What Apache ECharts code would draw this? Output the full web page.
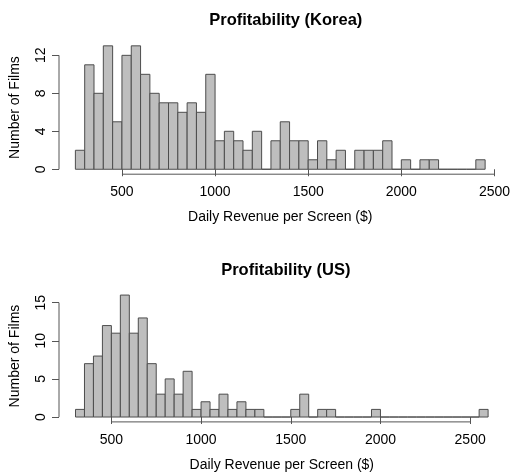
<!DOCTYPE html>
<html>
<head>
<meta charset="utf-8">
<script src="https://cdn.jsdelivr.net/npm/echarts@6/dist/echarts.min.js"></script>
<style>
html,body{margin:0;padding:0;background:#fff;}
#chart{width:513px;height:473px;}
</style>
</head>
<body>
<div id="chart"></div>
<script>
// Histogram bin width and bin lower edges
const binWidth = 50;
const koreaBins = [250,300,350,400,450,500,550,600,650,700,750,800,850,900,950,1000,1050,1100,1150,1200,1250,1300,1350,1400,1450,1500,1550,1600,1650,1700,1750,1800,1850,1900,1950,2000,2050,2100,2150,2200,2250,2300,2350,2400];
const koreaCounts = [2,11,8,13,5,12,13,10,8,7,7,6,7,6,10,3,4,3,2,4,0,3,5,3,3,1,3,1,2,0,2,2,2,3,0,1,0,1,1,0,0,0,0,1];
const usBins = [300,350,400,450,500,550,600,650,700,750,800,850,900,950,1000,1050,1100,1150,1200,1250,1300,1350,1400,1450,1500,1550,1600,1650,1700,1750,1800,1850,1900,1950,2000,2050,2100,2150,2200,2250,2300,2350,2400,2450,2500,2550];
const usCounts = [1,7,8,12,11,16,11,13,7,3,5,3,6,1,2,1,3,1,2,1,1,0,0,0,1,3,0,1,1,0,0,0,0,1,0,0,0,0,0,0,0,0,0,0,0,1];

const koreaXTicks = [500,1000,1500,2000,2500];
const koreaYTicks = [0,4,8,12];
const usXTicks = [500,1000,1500,2000,2500];
const usYTicks = [0,5,10,15];

const titleKorea = 'Profitability (Korea)';
const titleUS = 'Profitability (US)';
const xName = 'Daily Revenue per Screen ($)';
const yName = 'Number of Films';

const FONT = '"Liberation Sans", Arial, Helvetica, sans-serif';
const AXIS_COLOR = '#555';

function ext(lo, hi) { const d = (hi - lo) * 0.04; return [lo - d, hi + d]; }

const kx = ext(koreaBins[0], koreaBins[koreaBins.length - 1] + binWidth);
const ky = ext(0, Math.max(...koreaCounts));
const ux = ext(usBins[0], usBins[usBins.length - 1] + binWidth);
const uy = ext(0, Math.max(...usCounts));

function histData(bins, counts) {
  return bins.map((b, i) => [b, b + binWidth, counts[i]]);
}

function renderBar(params, api) {
  const p0 = api.coord([api.value(0), 0]);
  const p1 = api.coord([api.value(1), api.value(2)]);
  return {
    type: 'rect',
    shape: { x: p0[0], y: p1[1], width: p1[0] - p0[0], height: p0[1] - p1[1] },
    style: { fill: '#bebebe', stroke: '#4d4d4d', lineWidth: 1 }
  };
}

const plain = v => String(Math.round(v));

function xAxisDef(gi, range, ticks) {
  return {
    type: 'value', gridIndex: gi, min: range[0], max: range[1],
    axisLine: { show: false },
    splitLine: { show: false },
    axisTick: { show: true, length: 7, customValues: ticks, lineStyle: { color: AXIS_COLOR } },
    axisLabel: { customValues: ticks, formatter: plain, color: '#000', fontSize: 14, fontFamily: FONT, margin: 11 },
    name: xName, nameLocation: 'middle', nameGap: 36,
    nameTextStyle: { color: '#000', fontSize: 14, fontFamily: FONT }
  };
}
function yAxisDef(gi, range, ticks) {
  return {
    type: 'value', gridIndex: gi, min: range[0], max: range[1],
    axisLine: { show: false },
    splitLine: { show: false },
    axisTick: { show: true, length: 7, customValues: ticks, lineStyle: { color: AXIS_COLOR } },
    axisLabel: { customValues: ticks, formatter: plain, color: '#000', fontSize: 14, fontFamily: FONT, margin: 11, rotate: 90 },
    name: yName, nameLocation: 'middle', nameGap: 37,
    nameTextStyle: { color: '#000', fontSize: 14, fontFamily: FONT }
  };
}
function axisLineSeries(gi, xr, yr, xt, yt) {
  const ls = { color: AXIS_COLOR, width: 1 };
  return [
    { type: 'line', xAxisIndex: gi, yAxisIndex: gi, data: [[xt[0], yr[0]], [xt[xt.length - 1], yr[0]]],
      symbol: 'none', silent: true, lineStyle: ls, clip: false, z: 5 },
    { type: 'line', xAxisIndex: gi, yAxisIndex: gi, data: [[xr[0], yt[0]], [xr[0], yt[yt.length - 1]]],
      symbol: 'none', silent: true, lineStyle: ls, clip: false, z: 5 }
  ];
}

const chart = echarts.init(document.getElementById('chart'), null, { renderer: 'canvas' });
chart.setOption({
  animation: false,
  backgroundColor: '#fff',
  title: [
    { text: titleKorea, left: 280.8, top: 7, textAlign: 'center',
      textStyle: { fontSize: 16.5, fontWeight: 'bold', fontFamily: FONT, color: '#000' } },
    { text: titleUS, left: 280.8, top: 257, textAlign: 'center',
      textStyle: { fontSize: 16.5, fontWeight: 'bold', fontFamily: FONT, color: '#000' } }
  ],
  grid: [
    { left: 57.5, top: 40.9, width: 446.6, height: 133.3 },
    { left: 57.5, top: 290.2, width: 447.1, height: 131.7 }
  ],
  xAxis: [xAxisDef(0, kx, koreaXTicks), xAxisDef(1, ux, usXTicks)],
  yAxis: [yAxisDef(0, ky, koreaYTicks), yAxisDef(1, uy, usYTicks)],
  series: [
    { type: 'custom', xAxisIndex: 0, yAxisIndex: 0, renderItem: renderBar,
      data: histData(koreaBins, koreaCounts), encode: { x: [0, 1], y: 2 } },
    { type: 'custom', xAxisIndex: 1, yAxisIndex: 1, renderItem: renderBar,
      data: histData(usBins, usCounts), encode: { x: [0, 1], y: 2 } },
    ...axisLineSeries(0, kx, ky, koreaXTicks, koreaYTicks),
    ...axisLineSeries(1, ux, uy, usXTicks, usYTicks)
  ]
});
</script>
</body>
</html>
